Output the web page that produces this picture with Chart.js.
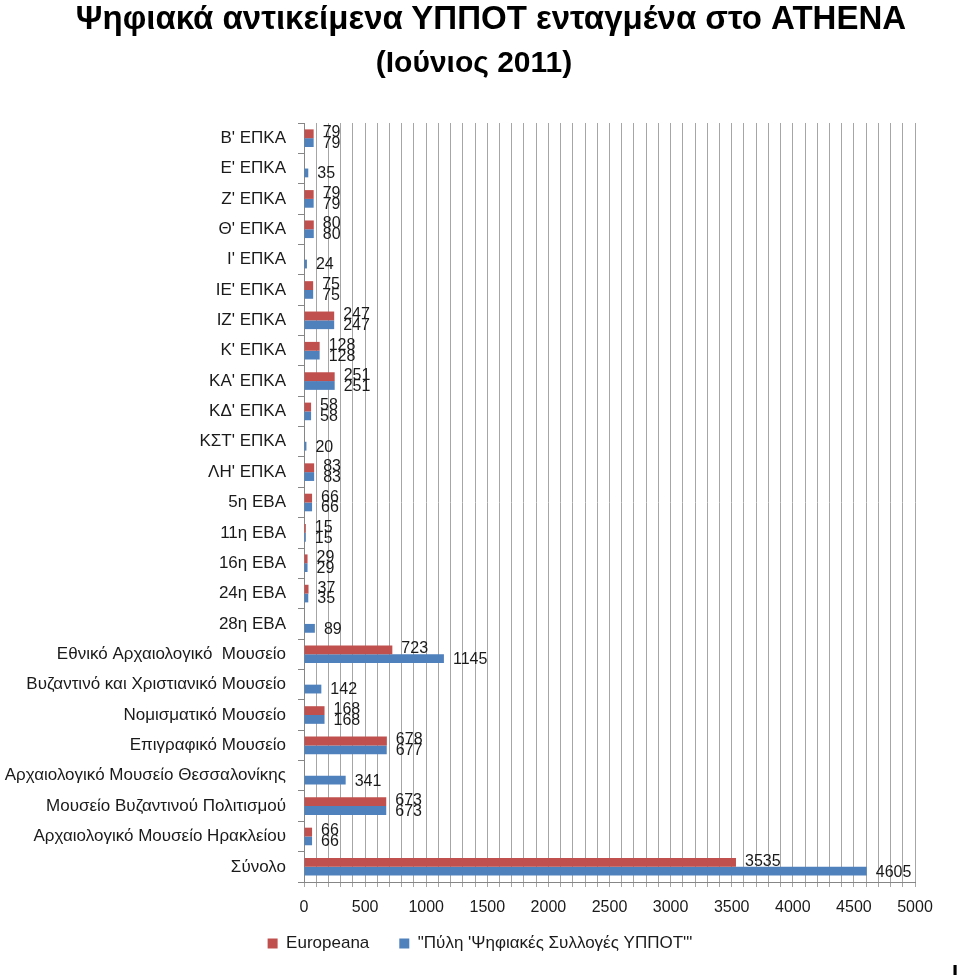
<!DOCTYPE html>
<html>
<head>
<meta charset="utf-8">
<script src="https://cdn.jsdelivr.net/npm/chart.js@4"></script>
<style>
  body { margin: 0; background: #fff; }
  #wrap { width: 960px; height: 975px; position: relative; }
  .head { position: absolute; left: 0; width: 982px; text-align: center; color: #000;
    font-family: 'Liberation Sans', Arial, sans-serif; font-weight: bold; white-space: nowrap; }
  #title { top: 0; font-size: 33px; line-height: 36px; }
  #subtitle { top: 44px; width: 948px; font-size: 30px; line-height: 36px; }
</style>
</head>
<body>
<div id="wrap">
  <div class="head" id="title">Ψηφιακά αντικείμενα ΥΠΠΟΤ ενταγμένα στο ATHENA</div>
  <div class="head" id="subtitle">(Ιούνιος 2011)</div>
  <canvas id="myChart"></canvas>
</div>
<script>
var categories = ["Β' ΕΠΚΑ", "Ε' ΕΠΚΑ", "Ζ' ΕΠΚΑ", "Θ' ΕΠΚΑ", "Ι' ΕΠΚΑ", "ΙΕ' ΕΠΚΑ", "ΙΖ' ΕΠΚΑ",
  "Κ' ΕΠΚΑ", "ΚΑ' ΕΠΚΑ", "ΚΔ' ΕΠΚΑ", "ΚΣΤ' ΕΠΚΑ", "ΛΗ' ΕΠΚΑ", "5η ΕΒΑ", "11η ΕΒΑ", "16η ΕΒΑ",
  "24η ΕΒΑ", "28η ΕΒΑ", "Εθνικό Αρχαιολογικό  Μουσείο", "Βυζαντινό και Χριστιανικό Μουσείο",
  "Νομισματικό Μουσείο", "Επιγραφικό Μουσείο", "Αρχαιολογικό Μουσείο Θεσσαλονίκης",
  "Μουσείο Βυζαντινού Πολιτισμού", "Αρχαιολογικό Μουσείο Ηρακλείου", "Σύνολο"];
var europeana = [79, null, 79, 80, null, 75, 247, 128, 251, 58, null, 83, 66, 15, 29,
  37, null, 723, null, 168, 678, null, 673, 66, 3535];
var pyli = [79, 35, 79, 80, 24, 75, 247, 128, 251, 58, 20, 83, 66, 15, 29,
  35, 89, 1145, 142, 168, 677, 341, 673, 66, 4605];
var xTickLabels = [0, 500, 1000, 1500, 2000, 2500, 3000, 3500, 4000, 4500, 5000];

var fam = "'Liberation Sans', Arial, sans-serif";

// numbers at the end of each bar, and legend centred on the page
var barValues = {
  id: 'barValues',
  beforeDraw: function (chart) {
    chart.legend.left = 45;
    chart.legend.right = 915;
    chart.legend.top = chart.legend.top - 19;
  },
  afterDatasetsDraw: function (chart) {
    var ctx = chart.ctx;
    ctx.save();
    ctx.font = "16px " + fam;
    ctx.fillStyle = '#1a1a1a';
    ctx.textBaseline = 'middle';
    ctx.textAlign = 'left';
    chart.data.datasets.forEach(function (ds, i) {
      chart.getDatasetMeta(i).data.forEach(function (bar, j) {
        if (ds.data[j] == null) return;
        ctx.fillText(ds.data[j], bar.x + 9, bar.y + (i === 0 ? -1 : 1));
      });
    });
    ctx.restore();
  },
  afterDraw: function (chart) {
    var ctx = chart.ctx;
    ctx.save();
    ctx.font = "bold 22px " + fam;
    ctx.fillStyle = '#000';
    ctx.fillText('I', 952, 974);
    ctx.restore();
  }
};

var ctx = document.getElementById("myChart").getContext("2d");
var chart = new Chart(ctx, {
  type: 'bar',
  data: {
    labels: categories,
    datasets: [{
      label: 'Europeana',
      data: europeana,
      backgroundColor: '#C0504D'
    }, {
      label: "\"Πύλη 'Ψηφιακές Συλλογές ΥΠΠΟΤ'\"",
      data: pyli,
      backgroundColor: '#4F81BD'
    }]
  },
  options: {
    indexAxis: 'y',
    responsive: true,
    maintainAspectRatio: false,
    animation: false,
    categoryPercentage: 0.58,
    barPercentage: 1,
    layout: { padding: { left: 0, right: 45, top: 123, bottom: 10 } },
    plugins: {
      legend: {
        position: 'bottom',
        maxHeight: 41,
        labels: {
          boxWidth: 10,
          boxHeight: 10,
          color: '#1a1a1a',
          font: { family: fam, size: 17 },
          padding: 30
        }
      },
      tooltip: { enabled: false }
    },
    scales: {
      x: {
        min: 0,
        max: 5000,
        ticks: {
          stepSize: 100,
          autoSkip: false,
          maxRotation: 0,
          padding: 11,
          color: '#1a1a1a',
          font: { family: fam, size: 16 },
          callback: function (v) { return xTickLabels.indexOf(v) >= 0 ? v : ''; }
        },
        grid: { color: '#a6a6a6', tickLength: 5 },
        border: { color: '#868686' },
        afterFit: function (scale) { scale.height = 42; }
      },
      y: {
        ticks: {
          autoSkip: false,
          color: '#1a1a1a',
          font: { family: fam, size: 17 },
          padding: 12
        },
        grid: { drawOnChartArea: false, offset: true, tickLength: 6, color: '#868686' },
        border: { color: '#868686' },
        afterFit: function (scale) { scale.width = 304; }
      }
    }
  },
  plugins: [barValues]
});
</script>
</body>
</html>
